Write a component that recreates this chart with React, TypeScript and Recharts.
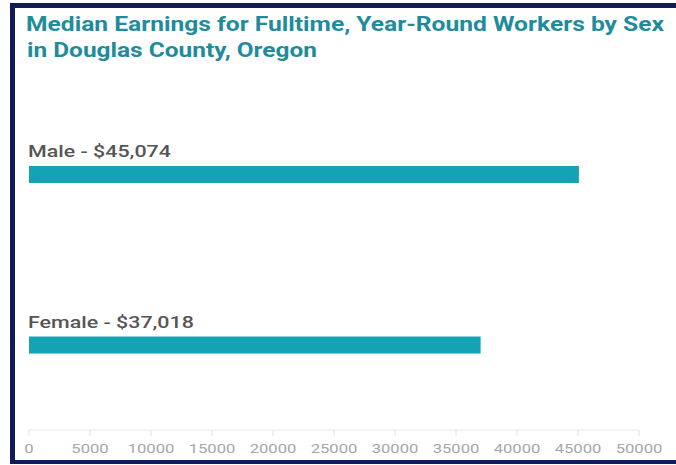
import React from 'react';
import { BarChart, Bar, XAxis, YAxis, LabelList } from 'recharts';

const titleLines = ['Median Earnings for Fulltime, Year-Round Workers by Sex', 'in Douglas County, Oregon'];
const categories = ['Male', 'Female'];
const earnings = [45074, 37018];
const xTicks = [0, 5000, 10000, 15000, 20000, 25000, 30000, 35000, 40000, 45000, 50000];

const data = categories.map((name, i) => ({ name, value: earnings[i] }));

const BAR_COLOR = '#14a3b4';
const TITLE_COLOR = '#1f8b9b';
const BORDER_COLOR = '#111b5a';

const TickLabel = (props: any) => {
  const { x, y, payload } = props;
  return (
    <text
      transform={`translate(${x},${y + 15}) scale(1.28,1)`}
      textAnchor="middle"
      fontFamily="Roboto, sans-serif"
      fontSize={13}
      fill="#a6a6a6"
    >
      {payload.value}
    </text>
  );
};

const BarTextLabel = (props: any) => {
  const { x, y, value, index } = props;
  const label = `${categories[index]} - $${Number(value).toLocaleString('en-US')}`;
  return (
    <text
      transform={`translate(${x - 1},${y - 9}) scale(1.26,1)`}
      fontFamily="Roboto, sans-serif"
      fontSize={17}
      fontWeight={500}
      fill="#555555"
    >
      {label}
    </text>
  );
};

export default function App() {
  return (
    <div style={{ position: 'absolute', left: 0, top: 0, width: 676, height: 465, background: '#fff', overflow: 'hidden' }}>
      <div
        style={{
          position: 'absolute',
          left: 10,
          top: 3,
          width: 666,
          height: 461,
          boxSizing: 'border-box',
          borderLeft: `5px solid ${BORDER_COLOR}`,
          borderTop: `5px solid ${BORDER_COLOR}`,
          borderBottom: `4px solid ${BORDER_COLOR}`,
        }}
      />
      <svg width={676} height={70} style={{ position: 'absolute', left: 0, top: 0 }}>
        <text x={26} y={31} fontFamily="Roboto, sans-serif" fontWeight={700} fontSize={19.5} fill={TITLE_COLOR} textLength={638} lengthAdjust="spacingAndGlyphs">
          {titleLines[0]}
        </text>
        <text x={27} y={57} fontFamily="Roboto, sans-serif" fontWeight={700} fontSize={19.5} fill={TITLE_COLOR} textLength={290} lengthAdjust="spacingAndGlyphs">
          {titleLines[1]}
        </text>
      </svg>
      <div style={{ position: 'absolute', left: 0, top: 0 }}>
        <BarChart
          width={676}
          height={465}
          data={data}
          layout="vertical"
          margin={{ top: 89, right: 37, bottom: 5, left: 29 }}
          barCategoryGap={0}
        >
          <XAxis
            type="number"
            domain={[0, 50000]}
            ticks={xTicks}
            interval={0}
            height={30}
            axisLine={{ stroke: '#e8e8e8' }}
            tickLine={{ stroke: '#e0e0e0' }}
            tickSize={6}
            tick={<TickLabel />}
          />
          <YAxis type="category" dataKey="name" hide width={0} />
          <Bar dataKey="value" fill={BAR_COLOR} barSize={17} isAnimationActive={false}>
            <LabelList dataKey="value" content={<BarTextLabel />} />
          </Bar>
        </BarChart>
      </div>
    </div>
  );
}
